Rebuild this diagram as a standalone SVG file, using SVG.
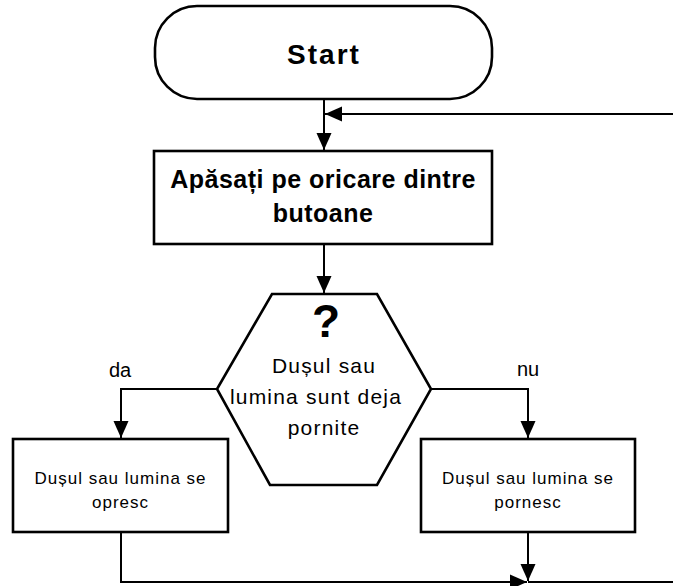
<svg xmlns="http://www.w3.org/2000/svg" width="673" height="586" viewBox="0 0 673 586">
<defs>
<style>
.shape{fill:#fff;stroke:#000;stroke-width:2.6}
.conn{fill:none;stroke:#000;stroke-width:2}
.bold{font-family:"Liberation Sans",Arial,sans-serif;font-weight:bold;fill:#000;text-anchor:middle}
.reg{font-family:"Liberation Sans",Arial,sans-serif;fill:#000;text-anchor:middle}
</style>
<marker id="ah" markerWidth="18" markerHeight="16" refX="17" refY="8" orient="auto" markerUnits="userSpaceOnUse">
<path d="M0,0.5 L17,8 L0,15.5 Z" fill="#000"/>
</marker>
</defs>
<rect width="673" height="586" fill="#fff"/>
<g id="connectors">
<line class="conn" x1="324" y1="99" x2="324" y2="150" marker-end="url(#ah)"/>
<line class="conn" x1="673" y1="114" x2="325" y2="114" marker-end="url(#ah)"/>
<line class="conn" x1="324" y1="244" x2="324" y2="293" marker-end="url(#ah)"/>
<polyline class="conn" points="217,389 121,389 121,438" marker-end="url(#ah)"/>
<polyline class="conn" points="431,389 528,389 528,438" marker-end="url(#ah)"/>
<polyline class="conn" points="121,532 121,582 527,582" marker-end="url(#ah)"/>
<line class="conn" x1="528" y1="532" x2="528" y2="581" marker-end="url(#ah)"/>
<line class="conn" x1="528" y1="582" x2="673" y2="582"/>
<text class="reg" x="120" y="377" font-size="20">da</text>
<text class="reg" x="528" y="376" font-size="20">nu</text>
</g>
<g id="start">
<rect class="shape" x="155" y="6" width="337" height="93" rx="42" ry="42"/>
<text class="bold" x="324" y="64" font-size="28" letter-spacing="2">Start</text>
</g>
<g id="press">
<rect class="shape" x="154" y="151" width="338" height="93"/>
<text class="bold" x="323" y="188" font-size="25" letter-spacing="0.5">Apăsați pe oricare dintre</text>
<text class="bold" x="323" y="222" font-size="25" letter-spacing="0.5">butoane</text>
</g>
<g id="decision">
<polygon class="shape" points="272,294 377,294 431,389 377,485 270,485 217,389"/>
<text class="bold" x="326" y="337" font-size="46">?</text>
<text class="reg" x="324" y="373" font-size="21" letter-spacing="1.2">Dușul sau</text>
<text class="reg" x="316" y="404" font-size="21" letter-spacing="1.2">lumina sunt deja</text>
<text class="reg" x="324" y="435" font-size="21" letter-spacing="1.2">pornite</text>
</g>
<g id="off">
<rect class="shape" x="13" y="439" width="215" height="93"/>
<text class="reg" x="120.5" y="484" font-size="17" letter-spacing="1">Dușul sau lumina se</text>
<text class="reg" x="120.5" y="508" font-size="17" letter-spacing="1">opresc</text>
</g>
<g id="on">
<rect class="shape" x="421" y="439" width="214" height="93"/>
<text class="reg" x="528" y="484" font-size="17" letter-spacing="1">Dușul sau lumina se</text>
<text class="reg" x="528" y="508" font-size="17" letter-spacing="1">pornesc</text>
</g>
</svg>
